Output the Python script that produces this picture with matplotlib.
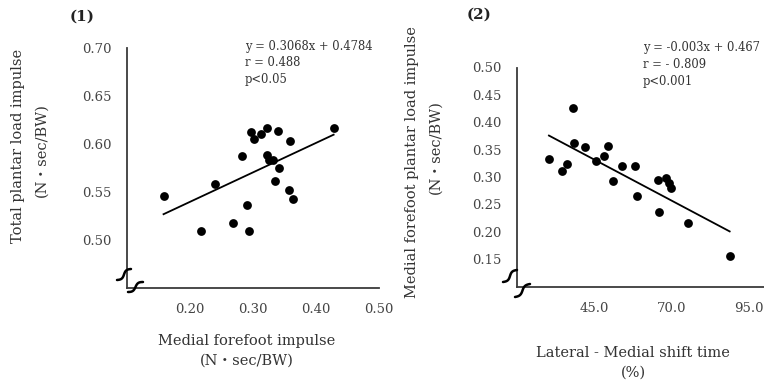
import numpy as np
import matplotlib
matplotlib.use("Agg")
import matplotlib.pyplot as plt

# ---------------- data ----------------
p1_x = [0.158, 0.217, 0.239, 0.268, 0.283, 0.290, 0.294, 0.297, 0.301, 0.313, 0.322,
        0.322, 0.325, 0.331, 0.339, 0.342, 0.335, 0.359, 0.357, 0.363, 0.428]
p1_y = [0.546, 0.509, 0.558, 0.518, 0.587, 0.536, 0.509, 0.612, 0.605, 0.610, 0.617,
        0.589, 0.583, 0.583, 0.614, 0.575, 0.561, 0.603, 0.552, 0.543, 0.617]
p1_fit = (0.3068, 0.4784)
p1_xticks = [0.20, 0.30, 0.40, 0.50]
p1_yticks = [0.50, 0.55, 0.60, 0.65, 0.70]
p1_xlim = (0.10, 0.50)
p1_ylim = (0.45, 0.70)
p1_stats = ["y = 0.3068x + 0.4784", "r = 0.488", "p<0.05"]

p2_x = [30.4, 34.7, 36.1, 38.3, 38.6, 42.0, 45.5, 48.3, 49.4, 51.2, 54.0, 58.3, 58.7,
        65.7, 65.8, 68.3, 69.1, 69.7, 75.4, 88.7]
p2_y = [0.333, 0.311, 0.323, 0.426, 0.362, 0.355, 0.329, 0.339, 0.357, 0.292, 0.320,
        0.320, 0.266, 0.295, 0.236, 0.298, 0.289, 0.281, 0.216, 0.156]
p2_fit = (-0.003, 0.467)
p2_xticks = [45.0, 70.0, 95.0]
p2_yticks = [0.15, 0.20, 0.25, 0.30, 0.35, 0.40, 0.45, 0.50]
p2_xlim = (20.0, 100.0)
p2_ylim = (0.10, 0.50)
p2_stats = ["y = -0.003x + 0.467", "r = - 0.809", "p<0.001"]

# ---------------- figure ----------------
W, H = 764, 383
fig = plt.figure(figsize=(W / 100, H / 100), dpi=100)
FAM = ["DejaVu Serif", "Noto Sans CJK JP"]
plt.rcParams["font.family"] = FAM


def fx(px):
    return px / W


def fy(py):
    return 1 - py / H


def make_axes(left, right, top, bottom):
    return fig.add_axes([fx(left), fy(bottom), fx(right) - fx(left), fy(top) - fy(bottom)])


def style(ax, xt, yt, xlim, ylim, xfmt, yfmt):
    ax.set_xlim(*xlim)
    ax.set_ylim(*ylim)
    ax.set_xticks(xt)
    ax.set_yticks(yt)
    ax.set_xticklabels([xfmt.format(v) for v in xt])
    ax.set_yticklabels([yfmt.format(v) for v in yt])
    for s in ["top", "right"]:
        ax.spines[s].set_visible(False)
    for s in ["left", "bottom"]:
        ax.spines[s].set_color("#3a3a3a")
        ax.spines[s].set_linewidth(1.3)
    ax.tick_params(length=0, labelsize=9.5, labelcolor="#444444", pad=11)
    ax.patch.set_alpha(0)


def draw_break(p0, p1):
    # small tilde-like break mark between two pixel points
    t = np.linspace(0, 1, 40)
    x0, y0 = p0
    x1, y1 = p1
    dx, dy = x1 - x0, y1 - y0
    L = np.hypot(dx, dy)
    nx, ny = -dy / L, dx / L
    amp = 1.8 * np.sin(2 * np.pi * t)
    xs = x0 + dx * t + nx * amp
    ys = y0 + dy * t + ny * amp
    fig.add_artist(plt.Line2D(fx(xs), fy(ys), color="black", lw=1.8,
                              transform=fig.transFigure, solid_capstyle="round"))


# panel 1
ax1 = make_axes(127, 379, 48, 288)
style(ax1, p1_xticks, p1_yticks, p1_xlim, p1_ylim, "{:.2f}", "{:.2f}")
ax1.scatter(p1_x, p1_y, s=40, color="black", zorder=3, linewidths=0)
xx = np.array([min(p1_x), max(p1_x)])
ax1.plot(xx, p1_fit[0] * xx + p1_fit[1], color="black", lw=1.3)

# panel 2
ax2 = make_axes(516.7, 764.7, 67.5, 286.7)
style(ax2, p2_xticks, p2_yticks, p2_xlim, p2_ylim, "{:.1f}", "{:.2f}")
ax2.scatter(p2_x, p2_y, s=40, color="black", zorder=3, linewidths=0)
xx = np.array([min(p2_x), max(p2_x)])
ax2.plot(xx, p2_fit[0] * xx + p2_fit[1], color="black", lw=1.3)

# break marks
draw_break((117, 280), (131, 269))
draw_break((128, 292), (143, 282))
draw_break((503, 282), (517, 270))
draw_break((515, 297), (530, 284))

# panel titles
fig.text(fx(82), fy(17), "(1)", ha="center", va="center", fontsize=11,
         fontweight="bold", color="#222222")
fig.text(fx(479), fy(15), "(2)", ha="center", va="center", fontsize=11,
         fontweight="bold", color="#222222")

# stats text
for i, s in enumerate(p1_stats):
    fig.text(fx(245), fy(46.5 + 16.5 * i), s, ha="left", va="center", fontsize=8.3,
             color="#333333")
for i, s in enumerate(p2_stats):
    fig.text(fx(643), fy(48 + 17 * i), s, ha="left", va="center", fontsize=8.3,
             color="#333333")

# axis labels
lab = dict(fontsize=10.5, color="#333333", ha="center", va="center")
fig.text(fx(18), fy(146), "Total plantar load impulse", rotation=90, **lab)
fig.text(fx(42), fy(150), "(N・sec/BW)", rotation=90, **lab)
fig.text(fx(412), fy(162), "Medial forefoot plantar load impulse", rotation=90, **lab)
fig.text(fx(436), fy(147), "(N・sec/BW)", rotation=90, **lab)
fig.text(fx(247), fy(341), "Medial forefoot impulse", **lab)
fig.text(fx(247), fy(361), "(N・sec/BW)", **lab)
fig.text(fx(633), fy(353), "Lateral - Medial shift time", **lab)
fig.text(fx(633), fy(373), "(%)", **lab)

fig.savefig("out.png", dpi=100)
